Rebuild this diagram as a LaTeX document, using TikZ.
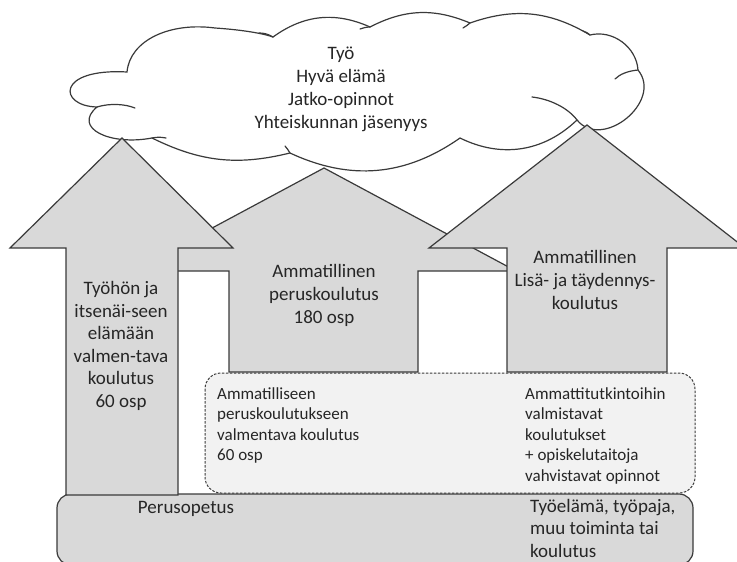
\documentclass[tikz,border=0pt]{standalone}
\usepackage{fontspec}
\setmainfont{Carlito}
\definecolor{arrowgray}{HTML}{D9D9D9}
\definecolor{boxgray}{HTML}{F2F2F2}
\definecolor{linegray}{HTML}{3A3A3A}
\definecolor{textcol}{HTML}{262626}
\begin{document}
\begin{tikzpicture}[x=1pt,y=-1pt,
  arrowshape/.style={fill=arrowgray, draw=linegray, line width=1.2pt, line join=miter},
  cloudline/.style={draw=linegray, line width=1.2pt, line cap=round},
  dashbox/.style={fill=boxgray, draw=linegray, line width=1pt, dash pattern=on 2.5pt off 1.5pt, rounded corners=16pt},
  basebox/.style={fill=arrowgray, draw=linegray, line width=1.2pt, rounded corners=14pt},
  bigtext/.style={font=\fontsize{19}{23}\selectfont, align=center, text=textcol, inner sep=0pt},
  smalltext/.style={font=\fontsize{17}{20.5}\selectfont, align=left, text=textcol, inner sep=0pt}]
\useasboundingbox (0,0) rectangle (737,562);
% cloud
\draw[cloudline, fill=white] (127,72) .. controls (130,40) and (170,22) .. (215,28)
  .. controls (245,30) and (265,34) .. (273,37)
  to[bend left=30] (370,27)
  to[bend left=25] (470,23) to[bend left=25] (590,35) to[bend left=50] (638,70)
  to[bend left=90,looseness=1.3] (577,120) to[bend left=35] (460,138)
  to[bend left=30] (290,153) to[bend left=20] (152,138)
  .. controls (110,146) and (72,128) .. (97,107)
  .. controls (58,106) and (56,68) .. (127,72) -- cycle;
\draw[cloudline] (97,107) .. controls (110,103) and (125,104) .. (135,108);
\draw[cloudline] (638,70) .. controls (628,71) and (620,74) .. (615,79);
\draw[cloudline] (577,120) .. controls (568,108) and (550,99) .. (532,97);
\draw[cloudline] (152,138) .. controls (157,137) and (161,137) .. (166,138);
\draw[cloudline] (290,153) .. controls (288,150) and (287,148) .. (285,146);
\draw[cloudline] (273,37) .. controls (268,34) and (264,33) .. (259,33);
\draw[cloudline] (370,27) .. controls (366,27) and (363,28) .. (360,29);
\draw[cloudline] (470,23) .. controls (468,25) and (466,26) .. (463,28);
\draw[cloudline] (590,35) .. controls (588,33) and (586,32) .. (583,31);
% base boxes
\draw[basebox] (57,494) rectangle (693,565);
\draw[dashbox] (205,373) rectangle (695,493);
% arrows
\draw[arrowshape] (229,372) -- (229,271) -- (132,271) -- (324,168) -- (516,271) -- (418,271) -- (418,372) -- cycle;
\draw[arrowshape] (507,372) -- (507,248) -- (429,248) -- (587,125) -- (745,248) -- (667,248) -- (667,372) -- cycle;
\draw[arrowshape] (66,495) -- (66,248) -- (10,248) -- (122,138) -- (233,248) -- (178,248) -- (178,495) -- cycle;
% texts
\node[bigtext] (cloudtxt) at (341,89) {Työ\\Hyvä elämä\\Jatko-opinnot\\Yhteiskunnan jäsenyys};
\node[bigtext, font=\fontsize{19}{22.6}\selectfont] (lefttxt) at (121,346) {Työhön ja\\itsenäi-seen\\elämään\\valmen-tava\\koulutus\\60 osp};
\node[bigtext] (midtxt) at (324,295) {Ammatillinen\\peruskoulutus\\180 osp};
\node[bigtext] (righttxt) at (585,280) {Ammatillinen\\Lisä- ja täydennys-\\koulutus};
\node[smalltext, anchor=north west] (boxl) at (217,387) {Ammatilliseen\\peruskoulutukseen\\valmentava koulutus\\60 osp};
\node[smalltext, anchor=north west] (boxr) at (525,387) {Ammattitutkintoihin\\valmistavat\\koulutukset\\+ opiskelutaitoja\\vahvistavat opinnot};
\node[bigtext, anchor=base] (peru) at (186,513) {Perusopetus};
\node[bigtext, font=\fontsize{19}{22.5}\selectfont, align=left, anchor=north west] (tyoel) at (530,499) {Työelämä, työpaja,\\muu toiminta tai\\koulutus};
\end{tikzpicture}
\end{document}
